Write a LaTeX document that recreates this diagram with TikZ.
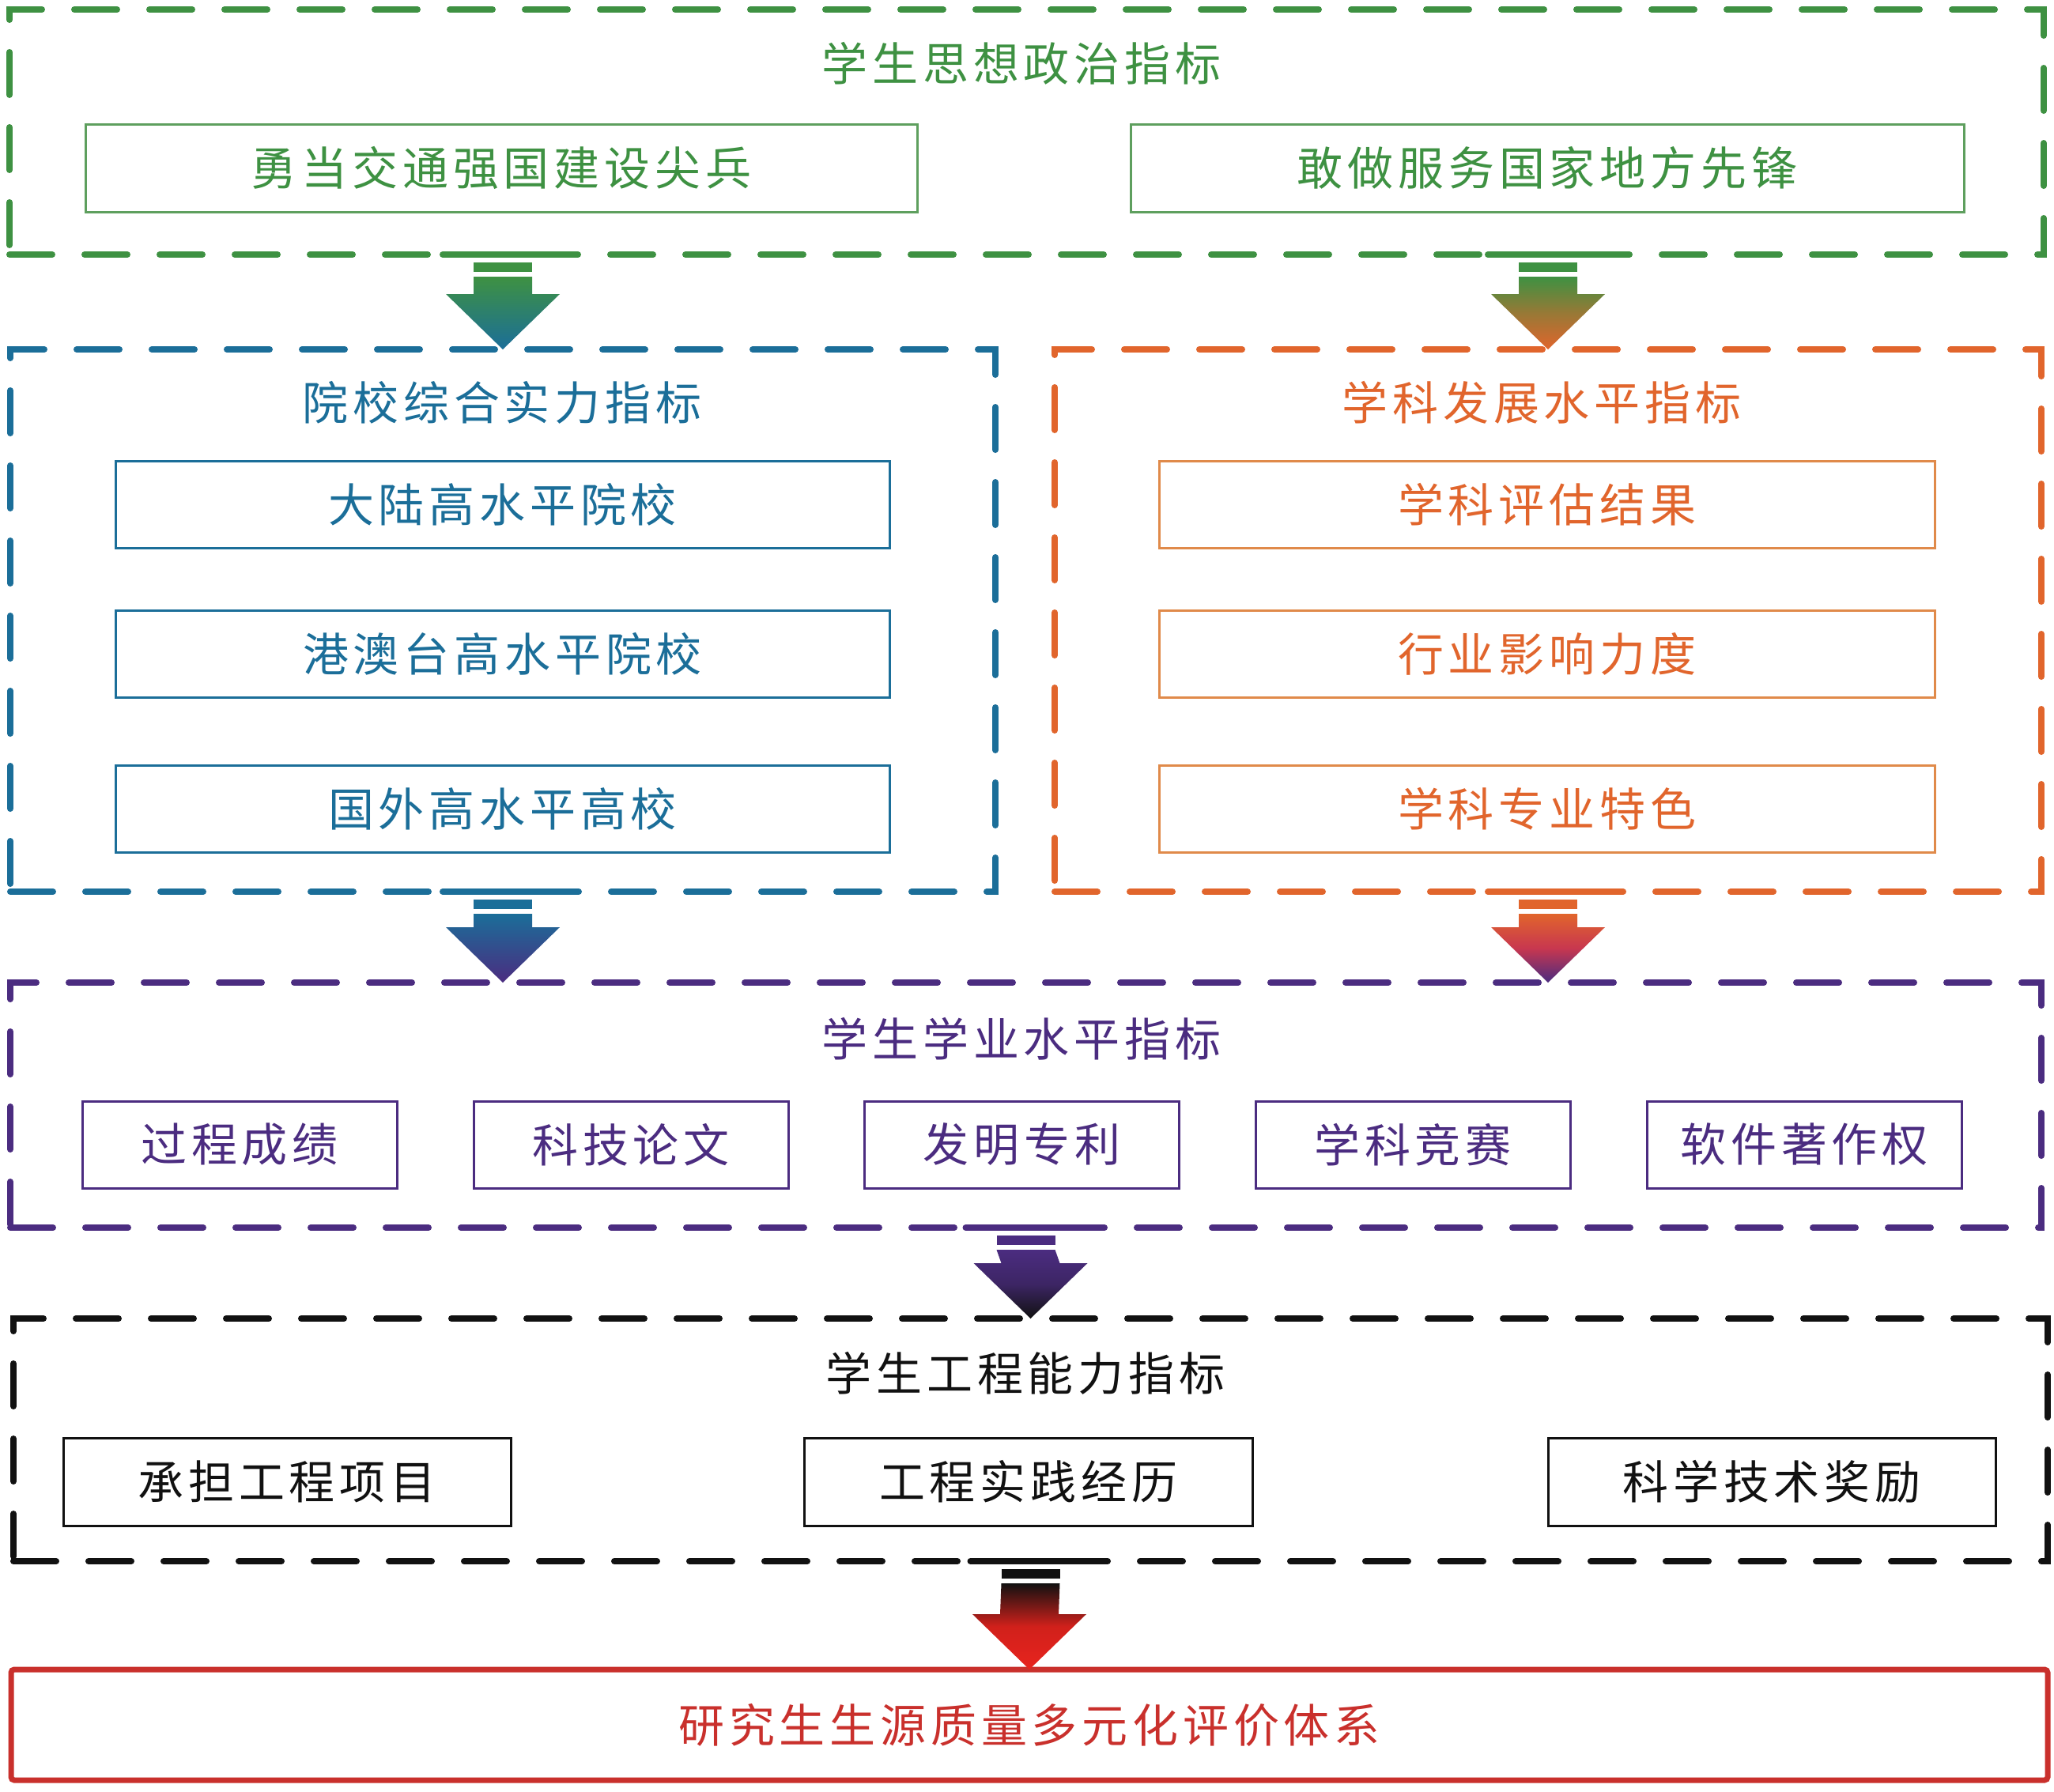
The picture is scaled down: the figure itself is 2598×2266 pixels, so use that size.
\documentclass[tikz,border=0pt]{standalone}
\usepackage{fontspec}
\setmainfont{Noto Sans CJK SC}[LetterSpace=10]
\usetikzlibrary{calc}
\definecolor{cgreen}{HTML}{3E9142}
\definecolor{cgreenL}{HTML}{5E9F5E}
\definecolor{cblue}{HTML}{1B6E99}
\definecolor{corange}{HTML}{E1652C}
\definecolor{corangeL}{HTML}{E08A4A}
\definecolor{cpurple}{HTML}{4B2C80}
\definecolor{cblack}{HTML}{111111}
\definecolor{cred}{HTML}{C9302C}
\definecolor{carrowred}{HTML}{E8241E}
\definecolor{cmagmid}{HTML}{C8374F}
\tikzset{
  outerbox/.style={draw=#1, line width=4pt, dash pattern=on 27pt off 20.5pt, line cap=round, rectangle, inner sep=0pt, outer sep=0pt},
  innerbox/.style={draw=#1, text=#1, line width=1.5pt, rectangle, inner sep=0pt, outer sep=0pt, font=\fontsize{29pt}{34pt}\selectfont},
  titletext/.style={text=#1, inner sep=0pt, font=\fontsize{29pt}{34pt}\selectfont},
}
\newcommand\fatarrow[5]{%
  \draw[#3, line width=4pt, line cap=round] ([xshift=-38pt]#1) -- ([xshift=38pt]#1);
  \fill[#3] ([xshift=-18.5pt,yshift=-5pt]#1) rectangle ([xshift=18.5pt,yshift=-11pt]#1);
  \shade[top color=#3, bottom color=#4, middle color=#5] ([xshift=-18.5pt,yshift=-14pt]#1) -- ([xshift=18.5pt,yshift=-14pt]#1) -- ([xshift=18.5pt,yshift=35pt]#2) -- ([xshift=36pt,yshift=35pt]#2) -- (#2) -- ([xshift=-36pt,yshift=35pt]#2) -- ([xshift=-18.5pt,yshift=35pt]#2) -- cycle;
}
\begin{document}
\begin{tikzpicture}[x=0.5pt, y=-0.5pt]
\useasboundingbox[fill=white] (0,0) rectangle (2598,2266);
% row 1
\node[outerbox=cgreen, minimum width=1286.5pt, minimum height=155pt] (g) at (1298.5,167) {};
\node[titletext=cgreen] (gt) at (1292,80) {学生思想政治指标};
\node[innerbox=cgreenL, text=cgreen, minimum width=526pt, minimum height=55.5pt] (g1) at (634,212.5) {勇当交通强国建设尖兵};
\node[innerbox=cgreenL, text=cgreen, minimum width=527pt, minimum height=55.5pt] (g2) at (1957,212.5) {敢做服务国家地方先锋};
% row 2
\node[outerbox=cblue, minimum width=623pt, minimum height=343pt] (b) at (636,785) {};
\node[titletext=cblue] (bt) at (635,509) {院校综合实力指标};
\node[innerbox=cblue, minimum width=489.5pt, minimum height=55pt] (b1) at (635.5,638) {大陆高水平院校};
\node[innerbox=cblue, minimum width=489.5pt, minimum height=55pt] (b2) at (635.5,827) {港澳台高水平院校};
\node[innerbox=cblue, minimum width=489.5pt, minimum height=55pt] (b3) at (635.5,1023.5) {国外高水平高校};
\node[outerbox=corange, minimum width=624pt, minimum height=343pt] (o) at (1958,785) {};
\node[titletext=corange] (ot) at (1950,509) {学科发展水平指标};
\node[innerbox=corangeL, text=corange, minimum width=490.5pt, minimum height=55pt] (o1) at (1956.5,638) {学科评估结果};
\node[innerbox=corangeL, text=corange, minimum width=490.5pt, minimum height=55pt] (o2) at (1956.5,827) {行业影响力度};
\node[innerbox=corangeL, text=corange, minimum width=490.5pt, minimum height=55pt] (o3) at (1956.5,1023.5) {学科专业特色};
% row 3
\node[outerbox=cpurple, minimum width=1284.5pt, minimum height=155pt] (p) at (1297.5,1398) {};
\node[titletext=cpurple] (pt) at (1292,1314) {学生学业水平指标};
\node[innerbox=cpurple, minimum width=199pt, minimum height=55pt] (p1) at (303,1448) {过程成绩};
\node[innerbox=cpurple, minimum width=199pt, minimum height=55pt] (p2) at (798,1448) {科技论文};
\node[innerbox=cpurple, minimum width=199pt, minimum height=55pt] (p3) at (1292.5,1448) {发明专利};
\node[innerbox=cpurple, minimum width=199pt, minimum height=55pt] (p4) at (1787,1448) {学科竞赛};
\node[innerbox=cpurple, minimum width=199pt, minimum height=55pt] (p5) at (2282,1448) {软件著作权};
% row 4
\node[outerbox=cblack, minimum width=1286.5pt, minimum height=153.5pt] (k) at (1303.5,1821.5) {};
\node[titletext=cblack] (kt) at (1297,1737) {学生工程能力指标};
\node[innerbox=cblack, minimum width=283pt, minimum height=55.5pt] (k1) at (363,1874.5) {承担工程项目};
\node[innerbox=cblack, minimum width=283.5pt, minimum height=55.5pt] (k2) at (1300.5,1874.5) {工程实践经历};
\node[innerbox=cblack, minimum width=283pt, minimum height=55.5pt] (k3) at (2241,1874.5) {科学技术奖励};
% row 5
\node[draw=cred, line width=3.5pt, rounded corners=2pt, rectangle, inner sep=0pt, outer sep=0pt, text=cred, font=\fontsize{29pt}{34pt}\selectfont, minimum width=1288pt, minimum height=70pt] (r) at (1302,2182) {研究生生源质量多元化评价体系};
% arrows
\coordinate (a1s) at (g.south -| b.north);
\coordinate (a2s) at (g.south -| o.north);
\coordinate (a3e) at (p.north -| b.south);
\coordinate (a4e) at (p.north -| o.south);
\fatarrow{a1s}{b.north}{cgreen}{cblue}{cgreen!50!cblue}
\fatarrow{a2s}{o.north}{cgreen}{corange}{cgreen!45!corange}
\fatarrow{b.south}{a3e}{cblue}{cpurple}{cblue!50!cpurple}
\fatarrow{o.south}{a4e}{corange}{cpurple}{cmagmid}
\fatarrow{p.south}{k.north}{cpurple}{cblack}{cpurple!75!cblack}
\fatarrow{k.south}{r.north}{cblack}{carrowred}{carrowred!90!black}
\end{tikzpicture}
\end{document}
